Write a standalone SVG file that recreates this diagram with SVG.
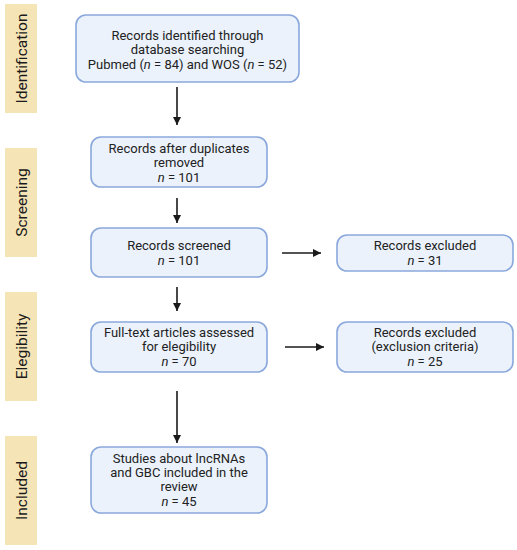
<svg xmlns="http://www.w3.org/2000/svg" width="517" height="550" viewBox="0 0 517 550">
<style>
.box{fill:#EBF2FC;stroke:#8AA8DC;stroke-width:1.6}
.lab{fill:#F5E4B6}
.t{font-family:Roboto,"Liberation Sans",sans-serif;font-size:13px;fill:#222;text-anchor:middle}
.lt{font-family:Roboto,"Liberation Sans",sans-serif;font-size:15.5px;fill:#1a1a1a;text-anchor:middle}
.c{stroke:#1a1a1a;stroke-width:1.6;fill:none}
</style>
<defs>
<marker id="ah" viewBox="0 0 10 10" refX="10" refY="5" markerWidth="5" markerHeight="5" markerUnits="strokeWidth" orient="auto">
<path d="M0,0 L10,5 L0,10 Z" fill="#1a1a1a"/>
</marker>
</defs>
<rect width="517" height="550" fill="#fff"/>
<g id="phase-identification"><rect class="lab" x="5" y="4" width="32" height="109"/><text class="lt" transform="translate(27,58.5) rotate(-90)">Identification</text></g>
<g id="phase-screening"><rect class="lab" x="5" y="148" width="32" height="109"/><text class="lt" transform="translate(27,202.5) rotate(-90)">Screening</text></g>
<g id="phase-eligibility"><rect class="lab" x="5" y="292" width="32" height="109"/><text class="lt" transform="translate(27,346.5) rotate(-90)">Elegibility</text></g>
<g id="phase-included"><rect class="lab" x="5" y="436" width="32" height="109"/><text class="lt" transform="translate(27,490.5) rotate(-90)">Included</text></g>

<g id="connectors">
<line class="c" x1="177" y1="87" x2="177" y2="125" marker-end="url(#ah)"/>
<line class="c" x1="177" y1="198" x2="177" y2="223" marker-end="url(#ah)"/>
<line class="c" x1="177" y1="287" x2="177" y2="311" marker-end="url(#ah)"/>
<line class="c" x1="177" y1="391" x2="177" y2="443" marker-end="url(#ah)"/>
<line class="c" x1="282" y1="253" x2="321" y2="253" marker-end="url(#ah)"/>
<line class="c" x1="285" y1="347" x2="324" y2="347" marker-end="url(#ah)"/>
</g>

<g id="node-identified"><rect class="box" x="76" y="15" width="223" height="67" rx="10"/>
<text class="t" x="187.5" y="39.5">Records identified through</text>
<text class="t" x="187.5" y="54">database searching</text>
<text class="t" x="187.5" y="68.5">Pubmed (<tspan font-style="italic">n</tspan> = 84) and WOS (<tspan font-style="italic">n</tspan> = 52)</text></g>

<g id="node-duplicates"><rect class="box" x="91" y="137" width="176" height="50" rx="10"/>
<text class="t" x="179" y="153">Records after duplicates</text>
<text class="t" x="179" y="167">removed</text>
<text class="t" x="179" y="181.5"><tspan font-style="italic">n</tspan> = 101</text></g>

<g id="node-screened"><rect class="box" x="91" y="228" width="176" height="49" rx="10"/>
<text class="t" x="179" y="250">Records screened</text>
<text class="t" x="179" y="264.5"><tspan font-style="italic">n</tspan> = 101</text></g>

<g id="node-fulltext"><rect class="box" x="91" y="322" width="176" height="50" rx="10"/>
<text class="t" x="179" y="337">Full-text articles assessed</text>
<text class="t" x="179" y="351">for elegibility</text>
<text class="t" x="179" y="365.5"><tspan font-style="italic">n</tspan> = 70</text></g>

<g id="node-included"><rect class="box" x="91" y="447" width="176" height="66" rx="10"/>
<text class="t" x="179" y="463">Studies about lncRNAs</text>
<text class="t" x="179" y="477">and GBC included in the</text>
<text class="t" x="179" y="491">review</text>
<text class="t" x="179" y="505.5"><tspan font-style="italic">n</tspan> = 45</text></g>

<g id="node-excluded1"><rect class="box" x="337" y="235" width="176" height="36" rx="10"/>
<text class="t" x="425" y="250">Records excluded</text>
<text class="t" x="425" y="264.5"><tspan font-style="italic">n</tspan> = 31</text></g>

<g id="node-excluded2"><rect class="box" x="337" y="322" width="176" height="50" rx="10"/>
<text class="t" x="425" y="337">Records excluded</text>
<text class="t" x="425" y="351">(exclusion criteria)</text>
<text class="t" x="425" y="365.5"><tspan font-style="italic">n</tspan> = 25</text></g>
</svg>
